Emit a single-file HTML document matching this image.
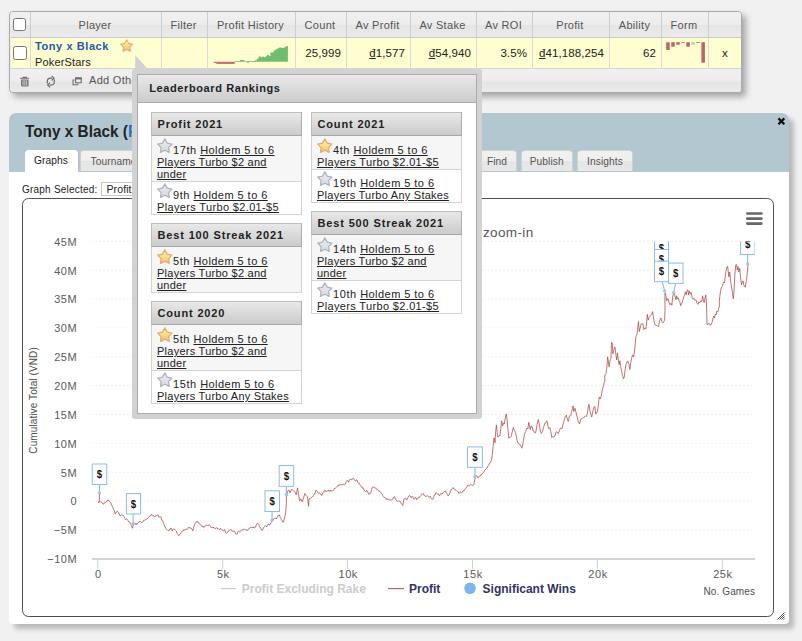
<!DOCTYPE html>
<html>
<head>
<meta charset="utf-8">
<title>Tony x Black</title>
<style>
*{box-sizing:border-box;}
html,body{margin:0;padding:0;}
body{width:802px;height:641px;overflow:hidden;background:#f1f1f1;font-family:"Liberation Sans",sans-serif;font-size:11px;color:#222;position:relative;}
.abs{position:absolute;}
/* ---------- top grid ---------- */
#grid{position:absolute;left:9px;top:11px;width:733px;height:82px;border:1px solid #aaa;border-radius:4px;box-shadow:4px 4px 6px rgba(0,0,0,.31);background:#eee;overflow:hidden;}
#gin{position:absolute;left:1px;top:1px;width:730px;height:80px;}
#ghead{position:absolute;left:0;top:-1px;width:730px;height:26px;background:linear-gradient(#f0f0f0 0,#ededed 50%,#e5e5e5 54%,#ebebeb 100%);border-bottom:1px solid #c9c9c9;}
#grow{position:absolute;left:0;top:25px;width:730px;height:31px;background:#fefed0;border-bottom:1px solid #d3d3d3;}
#gfoot{position:absolute;left:0;top:56px;width:730px;height:24px;background:linear-gradient(#f0f0f0 0,#ededed 50%,#e5e5e5 54%,#ebebeb 100%);}
.vl{position:absolute;top:-1px;width:1px;height:57px;background:linear-gradient(#cdcdcd 0,#cdcdcd 26px,#dadada 26px,#dadada 100%);}
.hc{position:absolute;top:0;height:24px;line-height:24px;text-align:center;color:#555;font-size:11px;letter-spacing:.3px;white-space:nowrap;}
.dc{position:absolute;top:25px;height:30px;line-height:30px;text-align:right;color:#222;font-size:11.5px;letter-spacing:.1px;white-space:nowrap;}
.dong{text-decoration:underline;text-underline-offset:1px;}
.cb{position:absolute;width:13px;height:13px;border:1px solid #767676;border-radius:2.5px;background:#fff;}
#pname{font-weight:bold;color:#1d5aa8;font-size:11px;letter-spacing:.58px;line-height:13px;white-space:nowrap;}
#psite{font-size:11px;letter-spacing:.15px;line-height:13px;color:#222;white-space:nowrap;}
/* ---------- panel ---------- */
#panel{position:absolute;left:9px;top:113px;width:780px;height:511px;background:#fff;border-radius:7px 7px 4px 4px;box-shadow:5px 5px 5px rgba(0,0,0,.23);}
#phead{position:absolute;left:0;top:0;width:780px;height:58.6px;background:#b2c7cf;border-radius:7px 7px 0 0;}
#ptitle{position:absolute;left:16px;top:8.7px;line-height:19px;transform:scaleX(.93);transform-origin:0 0;font-size:16.5px;font-weight:bold;color:#222;white-space:nowrap;}
.tab{position:absolute;top:37.3px;height:20.5px;border:1px solid #d0d0d0;border-bottom:none;border-radius:4px 4px 0 0;background:linear-gradient(#f1f1f1 0,#efefef 48%,#e5e5e5 52%,#e7e7e7 100%);color:#555;font-size:10.2px;letter-spacing:.1px;line-height:21.4px;text-align:center;white-space:nowrap;}
.tab.sel{background:#fff;top:36.7px;height:23px;color:#222;border-color:#fff;line-height:20.6px;}
#chart{position:absolute;left:13px;top:85px;width:752px;height:419px;border:1px solid #4f4f4f;border-radius:6.5px;background:#fff;overflow:hidden;}
/* ---------- popup ---------- */
#pop{position:absolute;left:132.3px;top:68.6px;width:349.5px;height:350.2px;background:#d2d2d2;border-radius:3px;}
#popin{position:absolute;left:5px;top:5px;width:339.5px;height:340.2px;background:#fff;}
#popin:after{content:"";position:absolute;left:0;top:0;right:0;bottom:0;border:1px solid #ababab;pointer-events:none;}
#poptitle{position:absolute;left:0;top:0;width:339.5px;height:29px;border:1px solid #ababab;background:linear-gradient(#e9e9e9,#cccccc);font-weight:bold;font-size:11px;letter-spacing:.6px;color:#222;line-height:27px;padding-left:11px;}
.lb{position:absolute;width:151px;border:1px solid #d3d3d3;background:#fff;}
.lbh{height:24px;border:1px solid #bdbdbd;border-bottom-color:#a8a8a8;border-right-color:#adadad;margin:-1px -1px 0 -1px;background:linear-gradient(#e8e8e8,#cbcbcb);font-weight:bold;font-size:11px;letter-spacing:.85px;color:#222;line-height:22px;padding-left:5px;white-space:nowrap;}
.lbr{border-top:1px solid #d3d3d3;padding:1px 0 0 4.5px;font-size:11px;letter-spacing:.3px;line-height:12px;color:#222;white-space:nowrap;overflow:hidden;}
.lbr.first{border-top:none;padding-top:2px;}
.lbr.r3{height:45.5px;}
.lbr.r2{height:33px;}
.lbr.first.r3{height:45px;}
.lbr.first.r2{height:32.5px;}
.lbr i{font-style:normal;letter-spacing:.6px;}
.lbr u.h{letter-spacing:.45px;}
.lbr u.a{letter-spacing:.26px;}
.lbr u.b{letter-spacing:.35px;}
.lbr u.c{letter-spacing:.25px;}
.lbr.alt{background:#f6f6f6;}
.lbr u{text-decoration:underline;}
.star{display:inline-block;width:16px;height:16px;vertical-align:baseline;}
</style>
</head>
<body>
<svg width="0" height="0" style="position:absolute">
<defs>
<linearGradient id="gg" x1="0" y1="0" x2="0" y2="1"><stop offset="0" stop-color="#fdf092"/><stop offset=".5" stop-color="#fbe084"/><stop offset="1" stop-color="#f8b56c"/></linearGradient>
<linearGradient id="sg" x1="0" y1="0" x2="0" y2="1"><stop offset="0" stop-color="#eceef2"/><stop offset="1" stop-color="#d4d8e0"/></linearGradient>
<symbol id="gstar" viewBox="0 0 16 16"><polygon points="7.85,0.90 10.17,5.15 14.94,6.05 11.61,9.57 12.23,14.38 7.85,12.30 3.47,14.38 4.09,9.57 0.76,6.05 5.53,5.15" fill="url(#gg)" stroke="#dcab78" stroke-width="1.2" stroke-linejoin="round"/></symbol>
<symbol id="sstar" viewBox="0 0 16 16"><polygon points="7.85,0.90 10.17,5.15 14.94,6.05 11.61,9.57 12.23,14.38 7.85,12.30 3.47,14.38 4.09,9.57 0.76,6.05 5.53,5.15" fill="url(#sg)" stroke="#aeb3bc" stroke-width="1.25" stroke-linejoin="round"/></symbol>
</defs></svg>

<!-- ================= GRID ================= -->
<div id="grid"><div id="gin">
  <div id="ghead"></div>
  <div id="grow"></div>
  <div id="gfoot"></div>
  <div class="vl" style="left:19px"></div>
  <div class="vl" style="left:150px"></div>
  <div class="vl" style="left:196px"></div>
  <div class="vl" style="left:284px"></div>
  <div class="vl" style="left:335px"></div>
  <div class="vl" style="left:399px"></div>
  <div class="vl" style="left:465px"></div>
  <div class="vl" style="left:521px"></div>
  <div class="vl" style="left:598px"></div>
  <div class="vl" style="left:650px"></div>
  <div class="vl" style="left:697px"></div>
  <div class="hc" style="left:19px;width:130px">Player</div>
  <div class="hc" style="left:150px;width:45px">Filter</div>
  <div class="hc" style="left:196px;width:87px">Profit History</div>
  <div class="hc" style="left:284px;width:50px">Count</div>
  <div class="hc" style="left:335px;width:63px">Av Profit</div>
  <div class="hc" style="left:399px;width:65px">Av Stake</div>
  <div class="hc" style="left:465px;width:55px">Av ROI</div>
  <div class="hc" style="left:521px;width:76px">Profit</div>
  <div class="hc" style="left:598px;width:51px">Ability</div>
  <div class="hc" style="left:650px;width:46px">Form</div>
  <div class="dc" style="left:285px;width:45px">25,999</div>
  <div class="dc" style="left:336px;width:58px"><span class="dong">đ</span>1,577</div>
  <div class="dc" style="left:400px;width:60px"><span class="dong">đ</span>54,940</div>
  <div class="dc" style="left:466px;width:50px">3.5%</div>
  <div class="dc" style="left:522px;width:71px"><span class="dong">đ</span>41,188,254</div>
  <div class="dc" style="left:599px;width:46px">62</div>
  <div class="dc" style="left:698px;width:32px;text-align:center">x</div>
  <div class="cb" style="left:2px;top:5px"></div>
  <div class="cb" style="left:2.2px;top:33.2px;width:13.6px;height:13.6px"></div>
  <div class="abs" id="pname" style="left:24px;top:27px;">Tony x Black</div>
  <div class="abs" id="psite" style="left:24px;top:43px;">PokerStars</div>
  <svg class="abs" style="left:108.7px;top:25.7px" width="13.6" height="13.6"><use href="#gstar"/></svg>
  <svg class="abs" style="left:0;top:0" width="730" height="56"><rect x="202.9" y="48.8" width="20.7" height="1.1" fill="#b95d63"/><rect x="205.3" y="49.9" width="18.4" height="0.9" fill="#b95d63"/><rect x="236.1" y="48.8" width="1.8" height="0.9" fill="#c9746f"/><polygon points="223.4,48.8 223.4,47.9 229.0,47.9 229.0,47.1 233.1,47.1 233.1,47.9 243.8,47.9 243.8,47.3 245.9,47.3 245.9,45.7 247.6,45.7 247.6,43.4 249.9,43.4 249.9,44.3 251.3,44.3 251.3,43.4 252.8,43.4 252.8,44.3 255.0,44.3 255.0,42.9 256.2,42.9 256.2,42.0 258.0,42.0 258.0,42.9 259.4,42.9 259.4,39.4 262.7,39.4 262.7,37.5 264.6,37.5 264.6,36.3 266.5,36.3 266.5,35.3 268.2,35.3 268.2,34.4 270.1,34.4 270.1,35.1 272.2,35.1 272.2,34.4 274.1,34.4 274.1,33.4 275.8,33.4 275.8,33.0 276.9,33.0 276.9,48.8" fill="#70bd6f"/></svg>
  <svg class="abs" style="left:0;top:0" width="730" height="56"><rect x="655.20" y="29.2" width="3.5" height="7.8" fill="#c0626b"/><rect x="660.23" y="29.2" width="3.5" height="4.5" fill="#c0626b"/><rect x="665.26" y="29.2" width="3.5" height="2.5" fill="#c0626b"/><rect x="670.29" y="29.2" width="3.5" height="0.8" fill="#c0626b"/><rect x="675.32" y="29.2" width="3.5" height="4.5" fill="#c0626b"/><rect x="680.35" y="29.2" width="3.5" height="2.5" fill="#90e59a"/><rect x="685.38" y="29.2" width="3.5" height="0.8" fill="#c0626b"/><rect x="690.41" y="29.2" width="3.5" height="20.5" fill="#c0626b"/></svg>
  <svg class="abs" style="left:0;top:56px" width="100" height="24" viewBox="0 56 100 24">
    <!-- trash -->
    <path d="M9 65.3H18M12.2 64.9V64.2H15.4V64.9" fill="none" stroke="#6f6f6f" stroke-width="1.1"/>
    <path d="M10 66.5H17.6V72.2Q17.6 73.6 16.2 73.6H11.4Q10 73.6 10 72.2Z" fill="#777"/>
    <path d="M12 67.2V72.6M13.8 67.2V72.6M15.6 67.2V72.6" stroke="#e2e2e2" stroke-width=".75"/>
    <!-- refresh -->
    <path d="M36.3 70.6V68.4Q36.3 65.2 39.5 65.2H41.2M43.3 66.6V68.8Q43.3 72 40.1 72H38.4" fill="none" stroke="#6a6a6a" stroke-width="1.25"/>
    <path d="M40.6 62.9L43 65.2L40.6 67.5M39 69.7L36.6 72L39 74.3" fill="none" stroke="#6a6a6a" stroke-width="1.15"/>
    <!-- copy -->
    <path d="M64.6 65.1H70.2V69.8H64.6Z" fill="none" stroke="#6f6f6f" stroke-width="1.1"/>
    <rect x="64.1" y="64.5" width="6.7" height="1.9" fill="#6a6a6a"/>
    <path d="M63.6 67H62V71.8H66.8V70.4" fill="none" stroke="#6f6f6f" stroke-width="1.1"/>
  </svg>
  <div class="abs" style="left:78px;top:61px;font-size:11px;letter-spacing:.3px;color:#555;line-height:13px;white-space:nowrap">Add Other Player</div>
</div></div>

<!-- ================= PANEL ================= -->
<div id="panel">
  <div id="phead"></div>
  <div class="tab sel" style="left:15.5px;width:53px">Graphs</div>
  <div class="tab" style="left:70.5px;width:80.5px;text-align:left;padding-left:10px">Tournaments</div>
  <div class="tab" style="left:468px;width:40px">Find</div>
  <div class="tab" style="left:511.5px;width:52.5px">Publish</div>
  <div class="tab" style="left:568px;width:56px">Insights</div>
  <svg class="abs" style="left:768.3px;top:4.3px" width="9" height="9" viewBox="0 0 9 9"><path d="M1.4 1.4L7.3 7.3M7.3 1.4L1.4 7.3" stroke="#111" stroke-width="2.3" stroke-linecap="butt"/></svg>
  <div class="abs" style="left:13px;top:70px;font-size:10px;letter-spacing:.22px;line-height:13px;color:#222;white-space:nowrap">Graph Selected:</div>
  <div class="abs" style="left:92px;top:68.6px;width:120px;height:14.9px;border:1px solid #c8c8c8;background:#fff;font-size:11px;letter-spacing:.3px;line-height:12.4px;padding-left:4.5px;color:#222;white-space:nowrap;font-size:10.5px;letter-spacing:.1px">Profit</div>
  <svg class="abs" style="left:768px;top:498.5px" width="8" height="8" viewBox="0 0 8 8"><path d="M7.5 0.5L0.5 7.5M7.5 2.5L2.5 7.5M7.5 4.5L4.5 7.5M7.5 6.5L6.5 7.5" stroke="#444" stroke-width=".9"/></svg>
  <div id="ptitle">Tony x Black (<span style="color:#2b6fc4">PokerStars</span>)</div>
  <div id="chart"></div>
<!--CHARTSVG-->
<svg class="abs" style="left:-9px;top:-113px" width="802" height="641" viewBox="0 0 802 641" font-family="Liberation Sans, sans-serif">
<path d="M91.5 241.3H755" stroke="#e3e3e3" stroke-width="1" stroke-dasharray="1.1 2.9" fill="none"/>
<path d="M91.5 270.2H755" stroke="#e3e3e3" stroke-width="1" stroke-dasharray="1.1 2.9" fill="none"/>
<path d="M91.5 299.0H755" stroke="#e3e3e3" stroke-width="1" stroke-dasharray="1.1 2.9" fill="none"/>
<path d="M91.5 327.9H755" stroke="#e3e3e3" stroke-width="1" stroke-dasharray="1.1 2.9" fill="none"/>
<path d="M91.5 356.8H755" stroke="#e3e3e3" stroke-width="1" stroke-dasharray="1.1 2.9" fill="none"/>
<path d="M91.5 385.6H755" stroke="#e3e3e3" stroke-width="1" stroke-dasharray="1.1 2.9" fill="none"/>
<path d="M91.5 414.5H755" stroke="#e3e3e3" stroke-width="1" stroke-dasharray="1.1 2.9" fill="none"/>
<path d="M91.5 443.4H755" stroke="#e3e3e3" stroke-width="1" stroke-dasharray="1.1 2.9" fill="none"/>
<path d="M91.5 472.3H755" stroke="#e3e3e3" stroke-width="1" stroke-dasharray="1.1 2.9" fill="none"/>
<path d="M91.5 501.1H755" stroke="#e3e3e3" stroke-width="1" stroke-dasharray="1.1 2.9" fill="none"/>
<path d="M91.5 530.0H755" stroke="#e3e3e3" stroke-width="1" stroke-dasharray="1.1 2.9" fill="none"/>
<path d="M92 559.0H755" stroke="#d3d3d3" stroke-width="1.9" fill="none"/>
<path d="M97.8 558.9V568.9" stroke="#c3d0ea" stroke-width="1" fill="none"/>
<path d="M222.7 558.9V568.9" stroke="#c3d0ea" stroke-width="1" fill="none"/>
<path d="M347.6 558.9V568.9" stroke="#c3d0ea" stroke-width="1" fill="none"/>
<path d="M472.5 558.9V568.9" stroke="#c3d0ea" stroke-width="1" fill="none"/>
<path d="M597.4 558.9V568.9" stroke="#c3d0ea" stroke-width="1" fill="none"/>
<path d="M722.3 558.9V568.9" stroke="#c3d0ea" stroke-width="1" fill="none"/>
<text x="77.2" y="245.6" text-anchor="end" font-size="11" fill="#5a5a5a" letter-spacing=".55">45M</text>
<text x="77.2" y="274.5" text-anchor="end" font-size="11" fill="#5a5a5a" letter-spacing=".55">40M</text>
<text x="77.2" y="303.3" text-anchor="end" font-size="11" fill="#5a5a5a" letter-spacing=".55">35M</text>
<text x="77.2" y="332.2" text-anchor="end" font-size="11" fill="#5a5a5a" letter-spacing=".55">30M</text>
<text x="77.2" y="361.1" text-anchor="end" font-size="11" fill="#5a5a5a" letter-spacing=".55">25M</text>
<text x="77.2" y="389.9" text-anchor="end" font-size="11" fill="#5a5a5a" letter-spacing=".55">20M</text>
<text x="77.2" y="418.8" text-anchor="end" font-size="11" fill="#5a5a5a" letter-spacing=".55">15M</text>
<text x="77.2" y="447.7" text-anchor="end" font-size="11" fill="#5a5a5a" letter-spacing=".55">10M</text>
<text x="77.2" y="476.6" text-anchor="end" font-size="11" fill="#5a5a5a" letter-spacing=".55">5M</text>
<text x="77.2" y="505.4" text-anchor="end" font-size="11" fill="#5a5a5a" letter-spacing=".55">0</text>
<text x="77.2" y="534.3" text-anchor="end" font-size="11" fill="#5a5a5a" letter-spacing=".55">−5M</text>
<text x="77.2" y="563.2" text-anchor="end" font-size="11" fill="#5a5a5a" letter-spacing=".55">−10M</text>
<text x="98.4" y="577.6" text-anchor="middle" font-size="11" fill="#5a5a5a" letter-spacing=".6">0</text>
<text x="223.3" y="577.6" text-anchor="middle" font-size="11" fill="#5a5a5a" letter-spacing=".6">5k</text>
<text x="348.2" y="577.6" text-anchor="middle" font-size="11" fill="#5a5a5a" letter-spacing=".6">10k</text>
<text x="473.1" y="577.6" text-anchor="middle" font-size="11" fill="#5a5a5a" letter-spacing=".6">15k</text>
<text x="598.0" y="577.6" text-anchor="middle" font-size="11" fill="#5a5a5a" letter-spacing=".6">20k</text>
<text x="722.9" y="577.6" text-anchor="middle" font-size="11" fill="#5a5a5a" letter-spacing=".6">25k</text>
<text transform="translate(37.2 400.4) rotate(-90)" text-anchor="middle" font-size="10" fill="#4d4d4d" letter-spacing=".1">Cumulative Total (VND)</text>
<text x="755" y="594.6" text-anchor="end" font-size="10" fill="#4d4d4d" letter-spacing=".1">No. Games</text>
<text x="533.5" y="236.9" text-anchor="end" font-size="13.5" fill="#555" letter-spacing=".35">Click and drag in the plot area to zoom-in</text>
<path d="M747.3 213.5H761.4" stroke="#666" stroke-width="2.6" stroke-linecap="round"/>
<path d="M747.3 218.6H761.4" stroke="#666" stroke-width="2.6" stroke-linecap="round"/>
<path d="M747.3 223.6H761.4" stroke="#666" stroke-width="2.6" stroke-linecap="round"/>
<clipPath id="plot"><rect x="91" y="241.3" width="664" height="317.6"/></clipPath>
<g clip-path="url(#plot)">
<path d="M99.4 493.5 L99.4 499.9 L98.6 502.9 L99.1 502.2 L99.5 501.5 L100.0 501.5 L100.5 502.1 L101.0 501.6 L101.5 502.6 L102.0 502.9 L102.4 503.2 L102.9 503.2 L103.4 504.3 L103.9 503.9 L104.4 502.7 L105.0 502.9 L105.5 502.5 L106.0 501.6 L106.6 501.9 L107.0 500.6 L107.5 500.5 L108.0 499.9 L108.4 500.9 L108.9 500.4 L109.4 501.5 L109.9 501.6 L110.4 502.6 L111.0 502.9 L111.5 504.9 L112.0 505.7 L112.6 506.9 L113.0 507.8 L113.5 509.6 L114.0 509.9 L114.4 510.6 L114.9 513.1 L115.3 513.9 L115.9 512.8 L116.4 511.8 L116.9 511.5 L117.5 511.4 L118.0 512.1 L118.5 512.9 L119.0 514.2 L119.5 514.1 L119.9 515.5 L120.4 515.5 L120.9 515.4 L121.4 514.8 L121.9 514.9 L122.4 515.3 L122.9 514.9 L123.4 515.3 L123.9 516.3 L124.4 516.9 L124.9 518.7 L125.3 519.5 L125.9 519.2 L126.4 518.8 L126.9 518.9 L127.5 519.9 L128.0 520.5 L128.5 521.5 L129.0 521.4 L129.4 522.4 L129.9 522.3 L130.4 523.6 L130.8 524.0 L131.3 525.5 L131.9 527.0 L132.5 528.3 L133.0 526.1 L133.5 523.9 L134.0 524.3 L134.4 523.9 L134.9 523.5 L135.4 523.3 L135.9 524.6 L136.4 523.5 L136.9 524.3 L137.4 523.5 L138.0 523.3 L138.5 522.3 L139.0 521.5 L139.5 521.9 L140.0 521.0 L140.5 521.5 L141.0 521.9 L141.5 522.3 L142.0 522.2 L142.5 522.3 L142.9 522.2 L143.4 520.7 L143.9 520.3 L144.4 520.4 L144.9 520.0 L145.4 519.8 L145.9 519.5 L146.4 519.0 L146.9 519.2 L147.4 518.9 L147.9 517.9 L148.4 517.4 L148.9 517.3 L149.4 516.0 L149.9 516.3 L150.3 515.9 L150.8 515.2 L151.3 514.3 L151.8 515.3 L152.3 515.4 L152.8 514.9 L153.3 515.5 L153.8 515.8 L154.3 516.7 L154.9 516.9 L155.4 515.8 L155.9 516.2 L156.4 515.9 L156.9 515.1 L157.4 514.8 L157.8 515.1 L158.3 515.2 L158.8 517.1 L159.2 517.5 L159.8 516.7 L160.3 516.7 L160.8 516.9 L161.4 518.0 L161.9 520.1 L162.4 520.9 L162.9 521.2 L163.4 522.8 L163.8 523.9 L164.3 524.9 L164.8 526.4 L165.2 526.9 L165.8 528.3 L166.3 529.4 L166.8 529.9 L167.4 529.9 L167.9 530.4 L168.4 530.8 L168.9 530.0 L169.3 530.2 L169.8 529.1 L170.3 529.5 L170.7 528.0 L171.2 528.3 L171.8 529.1 L172.4 530.8 L172.9 529.8 L173.3 529.1 L173.8 528.9 L174.3 529.2 L174.7 529.7 L175.2 529.9 L175.7 530.5 L176.3 531.1 L176.8 532.8 L177.3 533.6 L177.9 534.4 L178.4 535.4 L178.9 535.1 L179.3 535.3 L179.8 534.2 L180.3 533.9 L180.7 532.9 L181.2 532.2 L181.7 532.0 L182.2 531.6 L182.8 530.8 L183.3 529.8 L183.8 530.8 L184.4 529.9 L184.8 529.9 L185.3 529.7 L185.8 528.9 L186.2 529.5 L186.7 529.1 L187.2 529.5 L187.7 528.6 L188.2 527.5 L188.8 527.5 L189.3 527.9 L189.8 527.3 L190.4 528.3 L190.8 527.9 L191.3 528.3 L191.8 529.1 L192.3 529.4 L192.8 530.8 L193.2 528.9 L193.7 526.9 L194.2 525.9 L194.7 524.1 L195.2 523.3 L195.7 522.9 L196.2 521.8 L196.7 521.7 L197.1 521.5 L197.7 521.2 L198.2 523.0 L198.7 522.9 L199.3 523.7 L199.8 523.7 L200.3 524.9 L200.8 525.0 L201.3 525.6 L201.7 526.3 L202.2 526.2 L202.7 526.0 L203.2 527.2 L203.7 526.9 L204.2 527.3 L204.7 526.3 L205.2 526.1 L205.7 525.9 L206.2 525.1 L206.7 525.1 L207.2 525.3 L207.7 525.5 L208.2 524.9 L208.6 525.6 L209.1 524.9 L209.6 525.0 L210.2 525.5 L210.7 526.9 L211.2 527.8 L211.7 527.4 L212.2 527.1 L212.7 527.9 L213.2 528.0 L213.7 527.3 L214.2 528.2 L214.7 528.3 L215.2 528.7 L215.8 528.3 L216.3 527.5 L216.8 528.2 L217.2 528.0 L217.7 528.9 L218.2 528.9 L218.6 528.8 L219.1 529.5 L219.7 529.3 L220.3 528.3 L220.8 528.8 L221.2 529.7 L221.7 529.9 L222.1 529.9 L222.6 530.1 L223.1 530.8 L223.6 530.8 L224.1 530.6 L224.7 529.5 L225.2 531.3 L225.7 532.6 L226.3 533.4 L226.7 533.4 L227.2 532.7 L227.7 531.8 L228.1 531.1 L228.6 531.2 L229.1 530.8 L229.6 530.3 L230.1 529.5 L230.7 529.9 L231.2 529.7 L231.7 530.6 L232.3 531.4 L232.7 530.9 L233.2 531.3 L233.7 530.8 L234.1 531.9 L234.6 531.4 L235.0 531.8 L235.6 533.3 L236.1 534.2 L236.6 534.2 L237.2 534.0 L237.7 532.2 L238.2 531.4 L238.7 531.3 L239.2 531.6 L239.6 532.2 L240.1 531.3 L240.6 530.9 L241.0 530.8 L241.6 530.6 L242.1 530.5 L242.6 529.5 L243.2 529.8 L243.7 529.0 L244.2 528.9 L244.7 529.4 L245.2 530.0 L245.6 529.9 L246.1 529.4 L246.6 530.4 L247.0 530.2 L247.6 530.4 L248.1 529.7 L248.6 528.9 L249.1 528.8 L249.7 527.9 L250.2 527.5 L250.7 527.1 L251.1 528.1 L251.6 527.8 L252.1 527.2 L252.5 527.6 L253.0 526.8 L253.5 528.0 L253.9 527.6 L254.4 528.2 L254.9 527.2 L255.5 527.0 L256.0 525.4 L256.5 525.1 L257.0 523.6 L257.6 523.4 L258.0 523.3 L258.5 523.8 L259.0 524.8 L259.4 526.4 L259.9 527.3 L260.4 527.8 L260.9 528.1 L261.4 529.9 L262.0 530.2 L262.5 530.1 L263.0 528.9 L263.6 527.8 L264.0 526.9 L264.5 526.6 L265.0 525.8 L265.4 525.6 L265.9 525.8 L266.4 526.8 L266.9 526.7 L267.4 525.3 L268.0 524.2 L268.5 524.5 L269.0 525.3 L269.6 524.8 L270.0 524.1 L270.5 524.1 L270.9 522.8 L271.4 522.3 L271.9 520.4 L272.3 519.9 L272.9 519.3 L273.5 519.5 L274.0 518.6 L274.5 518.0 L274.9 517.9 L275.4 518.3 L275.9 518.2 L276.3 518.9 L276.9 517.7 L277.4 516.3 L277.9 515.9 L278.4 516.1 L278.9 515.0 L279.3 514.9 L279.9 516.3 L280.5 517.9 L281.0 518.6 L281.5 519.8 L281.9 519.9 L282.4 520.5 L282.9 522.1 L283.3 522.2 L283.8 520.6 L284.3 518.9 L284.9 516.4 L285.5 513.9 L286.3 503.9 L286.5 495.5 L287.0 493.8 L287.5 491.9 L288.0 490.5 L288.4 490.5 L288.9 489.9 L289.4 490.9 L289.9 492.9 L290.4 491.3 L290.8 491.6 L291.3 490.3 L291.8 489.4 L292.3 489.5 L292.9 490.2 L293.5 490.9 L294.0 491.6 L294.4 491.7 L294.9 491.9 L295.4 492.7 L295.8 493.9 L296.3 494.9 L296.9 491.5 L297.5 487.9 L298.0 491.3 L298.5 493.9 L299.0 496.8 L299.5 500.9 L299.9 500.3 L300.4 499.2 L300.9 498.9 L301.3 499.6 L301.8 501.3 L302.3 501.9 L302.9 499.9 L303.5 497.9 L303.9 496.5 L304.4 495.4 L304.9 493.5 L305.3 494.8 L305.8 494.8 L306.3 495.5 L306.9 496.4 L307.5 496.9 L308.0 501.6 L308.5 506.3 L309.1 498.9 L309.7 498.6 L310.2 498.5 L310.8 497.9 L311.3 497.4 L311.8 497.2 L312.3 496.7 L312.8 496.3 L313.3 496.3 L313.8 495.3 L314.2 494.3 L314.8 493.5 L315.3 492.3 L315.8 490.3 L316.4 490.4 L316.9 491.2 L317.4 491.5 L317.9 492.7 L318.4 493.0 L318.8 492.9 L319.3 492.7 L319.8 493.0 L320.2 493.9 L320.8 494.4 L321.3 494.3 L321.8 495.5 L322.4 494.1 L322.9 492.7 L323.4 492.3 L323.9 491.9 L324.3 491.4 L324.8 490.3 L325.3 491.3 L325.7 490.6 L326.2 491.5 L326.7 491.6 L327.3 491.4 L327.8 490.9 L328.3 490.2 L328.8 491.2 L329.3 491.2 L329.8 490.3 L330.3 490.1 L330.8 491.3 L331.3 490.6 L331.8 490.9 L332.3 490.6 L332.8 491.0 L333.3 490.4 L333.8 489.5 L334.3 488.6 L334.8 488.6 L335.3 488.4 L335.8 487.9 L336.3 487.2 L336.8 486.5 L337.3 486.2 L337.8 485.9 L338.3 486.0 L338.8 484.7 L339.3 485.3 L339.8 484.9 L340.3 484.9 L340.8 484.3 L341.3 484.8 L341.8 485.1 L342.3 485.1 L342.8 484.8 L343.3 483.9 L343.8 484.3 L344.3 484.7 L344.8 484.1 L345.3 484.0 L345.8 482.9 L346.3 481.5 L346.8 480.9 L347.4 480.3 L347.9 480.7 L348.4 482.3 L348.8 482.0 L349.3 480.4 L349.8 480.0 L350.2 479.2 L350.7 479.5 L351.2 480.1 L351.7 479.4 L352.2 479.6 L352.7 478.5 L353.2 478.1 L353.7 478.4 L354.3 479.8 L354.8 480.2 L355.3 480.9 L355.8 480.9 L356.3 479.7 L356.7 480.0 L357.2 480.3 L357.7 482.2 L358.1 482.9 L358.7 483.3 L359.2 483.2 L359.7 484.3 L360.3 485.7 L360.8 485.9 L361.3 486.3 L361.8 487.3 L362.3 486.8 L362.7 487.9 L363.2 489.1 L363.6 488.6 L364.1 489.9 L364.6 491.1 L365.2 491.2 L365.7 491.9 L366.3 490.9 L366.9 490.3 L367.5 491.7 L368.1 492.9 L368.6 494.0 L369.2 493.5 L369.7 494.3 L370.2 493.0 L370.6 492.8 L371.1 491.9 L371.6 489.5 L372.1 487.9 L372.6 487.1 L373.2 487.0 L373.7 487.3 L374.2 487.0 L374.8 487.5 L375.3 488.3 L375.8 488.2 L376.2 488.4 L376.7 488.9 L377.1 489.8 L377.6 489.5 L378.1 490.3 L378.6 490.7 L379.1 490.6 L379.7 491.5 L380.2 492.0 L380.7 492.1 L381.3 493.5 L381.7 493.8 L382.2 494.1 L382.7 495.5 L383.1 496.5 L383.6 496.9 L384.1 497.5 L384.6 497.3 L385.1 498.0 L385.7 498.3 L386.2 499.4 L386.7 498.5 L387.3 499.5 L387.7 499.8 L388.2 499.0 L388.7 498.9 L389.1 499.4 L389.6 500.3 L390.0 500.3 L390.6 500.0 L391.1 500.0 L391.6 499.9 L392.2 499.5 L392.7 499.3 L393.2 497.9 L393.8 497.0 L394.4 496.5 L395.0 498.2 L395.6 498.9 L396.2 500.1 L396.7 500.8 L397.2 501.5 L397.7 501.2 L398.2 500.9 L398.6 500.9 L399.1 500.6 L399.6 501.0 L400.0 501.9 L400.6 501.9 L401.1 503.6 L401.6 503.9 L402.2 504.3 L402.8 505.5 L403.6 500.9 L404.0 499.4 L404.5 498.5 L405.1 498.0 L405.6 498.2 L406.1 499.2 L406.5 499.8 L407.0 499.8 L407.4 499.1 L407.9 497.5 L408.4 496.8 L409.0 495.7 L409.6 495.4 L410.0 495.9 L410.5 496.9 L411.0 497.8 L411.4 496.8 L411.9 496.7 L412.4 496.2 L412.9 496.7 L413.4 498.6 L414.0 498.8 L414.5 499.0 L415.0 497.9 L415.6 497.4 L416.0 497.7 L416.5 499.4 L417.0 499.4 L417.4 498.7 L417.9 498.4 L418.4 498.2 L418.9 497.0 L419.4 497.1 L420.0 496.8 L420.5 496.1 L421.0 495.5 L421.5 494.8 L422.0 494.0 L422.5 494.2 L422.9 493.8 L423.4 493.7 L423.9 494.8 L424.3 495.8 L424.9 495.5 L425.4 496.3 L425.9 496.8 L426.5 495.8 L427.0 495.4 L427.5 495.8 L428.0 496.0 L428.5 496.5 L428.9 497.4 L429.4 497.1 L429.9 496.7 L430.3 496.2 L430.9 497.6 L431.4 498.6 L431.9 499.4 L432.5 499.2 L433.0 498.9 L433.5 497.8 L434.0 496.4 L434.4 495.2 L434.9 494.2 L435.4 494.5 L435.8 492.8 L436.3 492.8 L436.8 493.6 L437.4 494.0 L437.9 494.2 L438.4 493.9 L439.0 495.5 L439.5 495.4 L440.0 495.3 L440.4 494.3 L440.9 493.4 L441.4 494.0 L441.8 494.4 L442.3 494.2 L442.8 492.9 L443.4 492.7 L443.9 491.8 L444.4 491.5 L445.0 491.7 L445.5 490.8 L446.0 492.1 L446.4 493.0 L446.9 493.4 L447.3 494.3 L447.8 495.6 L448.3 495.8 L448.8 495.1 L449.3 494.1 L449.9 492.8 L450.4 491.4 L450.9 490.1 L451.5 489.8 L451.9 488.6 L452.4 488.3 L452.9 487.8 L453.3 487.6 L453.8 489.0 L454.3 488.8 L454.8 489.4 L455.3 490.0 L455.9 490.2 L456.4 490.8 L456.9 491.3 L457.5 491.4 L457.9 492.1 L458.4 492.0 L458.9 493.4 L459.3 493.3 L459.8 492.7 L460.2 491.8 L460.8 492.2 L461.3 492.5 L461.8 492.8 L462.4 492.4 L462.9 490.8 L463.4 490.8 L463.9 490.8 L464.4 489.8 L464.8 489.8 L465.3 488.5 L465.8 488.1 L466.2 487.8 L466.8 487.2 L467.3 485.4 L467.8 484.8 L468.4 485.5 L468.9 486.2 L469.4 485.8 L469.9 485.3 L470.4 484.6 L470.8 484.2 L471.3 484.6 L471.8 485.3 L472.2 485.4 L472.8 485.6 L473.3 485.2 L473.8 484.8 L474.3 482.6 L474.8 479.9 L475.4 476.9 L475.9 475.9 L476.3 475.7 L476.8 475.9 L477.3 476.2 L477.7 477.6 L478.2 477.9 L478.7 477.0 L479.3 476.9 L479.8 476.3 L480.3 475.1 L480.9 474.7 L481.4 474.9 L481.9 473.9 L482.3 473.8 L482.8 472.9 L483.3 472.7 L483.7 472.2 L484.2 471.5 L484.7 470.3 L485.3 469.8 L485.8 468.9 L486.3 468.5 L486.7 468.2 L487.2 467.9 L487.8 466.1 L488.4 465.5 L488.8 465.2 L489.3 463.3 L489.8 462.9 L490.2 462.9 L490.7 462.2 L491.2 460.9 L491.6 459.8 L492.4 453.8 L493.2 445.8 L494.0 437.9 L494.5 439.6 L495.0 442.8 L495.6 431.9 L496.4 424.9 L497.0 430.8 L497.6 436.9 L498.0 436.9 L498.5 436.6 L499.0 435.5 L499.5 435.6 L500.0 435.9 L500.4 431.5 L500.9 427.9 L501.5 420.9 L502.0 423.0 L502.5 425.9 L503.0 425.1 L503.5 422.9 L504.3 423.9 L505.1 418.9 L505.7 416.0 L506.3 413.9 L507.1 419.9 L507.9 428.9 L508.4 433.7 L508.9 438.3 L509.4 437.3 L509.9 437.4 L510.3 436.9 L510.9 436.8 L511.5 435.5 L512.0 432.6 L512.5 430.9 L513.3 427.5 L513.8 429.4 L514.3 430.3 L514.9 431.3 L515.5 432.3 L516.0 435.1 L516.5 436.9 L517.0 439.9 L517.5 442.2 L518.0 442.4 L518.4 443.9 L518.9 443.8 L519.4 444.4 L519.8 444.2 L520.3 445.4 L520.8 445.6 L521.4 447.3 L521.9 448.2 L522.4 446.0 L522.9 443.8 L523.4 440.6 L523.9 437.9 L524.4 434.8 L524.9 432.9 L525.4 431.9 L525.9 431.5 L526.5 429.4 L527.1 427.9 L527.9 428.9 L528.7 422.3 L529.5 426.3 L530.3 429.5 L531.1 425.9 L531.7 426.9 L532.3 426.9 L533.1 430.9 L533.7 430.8 L534.3 432.3 L534.9 432.9 L535.5 432.9 L536.0 430.9 L536.5 427.9 L537.0 424.8 L537.5 422.9 L538.3 419.5 L538.8 422.5 L539.3 424.3 L539.8 427.4 L540.2 429.9 L540.8 432.3 L541.4 433.5 L542.0 431.9 L542.6 430.9 L543.2 428.7 L543.8 426.9 L544.4 424.7 L545.0 422.9 L545.6 422.9 L546.2 421.5 L547.0 420.9 L547.8 425.5 L548.3 427.3 L548.8 428.9 L549.3 428.0 L549.8 427.5 L550.3 429.4 L550.8 431.5 L551.3 434.1 L551.8 437.5 L552.4 436.6 L552.9 436.5 L553.4 436.9 L553.9 437.0 L554.5 435.9 L555.0 435.9 L555.5 434.5 L556.0 431.9 L556.5 431.7 L557.0 432.3 L557.6 432.5 L558.2 433.5 L558.8 432.2 L559.4 430.9 L560.0 428.9 L560.6 427.9 L561.2 428.2 L561.8 428.9 L562.4 427.3 L563.0 424.3 L563.6 422.7 L564.2 419.9 L564.8 418.6 L565.4 416.3 L565.9 415.8 L566.4 414.9 L566.9 417.5 L567.4 418.9 L568.2 421.5 L568.8 419.4 L569.4 415.9 L569.8 415.9 L570.3 416.0 L570.8 415.5 L571.3 412.5 L571.8 410.9 L572.4 408.8 L573.0 405.9 L573.8 411.5 L574.4 409.9 L575.0 408.3 L575.6 411.0 L576.2 412.9 L576.7 415.1 L577.2 416.9 L577.7 419.1 L578.2 421.9 L578.8 422.2 L579.4 423.9 L580.0 422.5 L580.5 419.9 L581.1 418.8 L581.7 418.9 L582.3 418.4 L582.9 417.9 L583.5 417.5 L584.1 417.5 L584.7 416.4 L585.3 415.9 L585.9 416.5 L586.5 416.3 L587.1 414.3 L587.7 410.9 L588.3 407.3 L588.9 404.3 L589.7 408.9 L590.2 411.7 L590.7 413.9 L591.2 415.1 L591.7 416.9 L592.2 414.5 L592.7 411.9 L593.2 409.8 L593.7 407.9 L594.3 406.7 L594.9 406.5 L595.7 413.9 L596.3 412.9 L596.9 412.9 L597.7 409.9 L598.5 403.9 L599.1 397.0 L599.6 397.5 L600.1 399.0 L600.6 398.3 L601.1 396.4 L601.6 393.7 L602.1 391.0 L602.6 388.6 L603.1 387.0 L603.6 385.6 L604.1 383.0 L604.9 380.0 L604.6 375.8 L605.0 375.9 L605.5 374.4 L606.0 373.8 L606.5 369.3 L607.0 365.8 L607.6 356.9 L608.4 361.8 L609.2 366.8 L610.0 360.8 L610.4 359.4 L610.9 358.9 L611.5 342.3 L612.3 342.9 L612.9 353.9 L613.4 351.3 L613.9 349.9 L614.4 348.1 L614.9 346.9 L615.4 350.3 L615.9 354.9 L616.7 359.9 L617.5 352.9 L618.3 359.9 L619.1 364.8 L619.9 360.8 L620.7 366.8 L621.5 370.8 L622.0 372.7 L622.5 375.4 L623.0 376.7 L623.5 378.8 L624.3 376.8 L625.1 369.8 L625.9 364.8 L626.4 363.4 L626.9 361.8 L627.4 362.2 L627.9 361.4 L628.4 363.2 L628.9 364.2 L629.4 366.7 L629.9 369.4 L630.7 362.8 L631.5 358.9 L632.0 356.7 L632.5 354.9 L633.0 355.9 L633.5 356.9 L634.3 352.9 L635.1 344.9 L635.9 336.9 L636.4 335.7 L636.9 334.9 L637.4 330.7 L637.9 326.9 L638.5 321.5 L639.3 331.5 L639.8 329.1 L640.3 327.9 L640.8 325.6 L641.3 323.9 L641.8 324.4 L642.3 323.5 L642.8 324.2 L643.3 325.9 L643.9 329.5 L644.4 328.7 L644.9 327.9 L645.4 328.6 L645.9 328.9 L646.7 321.9 L647.3 314.4 L647.8 317.7 L648.3 320.0 L649.1 317.6 L649.9 316.4 L650.3 315.5 L650.8 315.6 L651.3 314.4 L651.8 314.0 L652.6 311.6 L653.4 317.0 L654.2 321.9 L655.0 324.9 L655.6 324.9 L656.2 325.5 L656.8 325.6 L657.4 325.9 L657.9 326.4 L658.4 326.9 L658.9 325.1 L659.4 321.9 L660.2 319.0 L661.0 318.0 L661.8 321.5 L662.3 322.5 L662.8 322.3 L663.3 322.5 L663.8 321.5 L664.6 320.0 L665.0 310.0 L664.9 296.8 L665.1 292.9 L665.9 295.8 L666.7 300.8 L667.5 298.8 L668.3 299.2 L669.1 302.8 L669.9 304.8 L670.4 303.6 L670.9 303.8 L671.4 303.8 L671.9 305.2 L672.7 296.8 L673.5 293.3 L674.3 292.9 L675.1 296.8 L675.9 299.8 L676.7 295.8 L677.5 298.8 L678.3 297.8 L679.1 300.8 L679.9 301.8 L680.6 305.8 L681.4 303.8 L682.2 302.8 L683.0 299.8 L683.8 296.8 L684.6 294.9 L685.4 291.9 L686.2 294.9 L687.0 290.5 L687.8 289.9 L688.6 294.9 L689.4 290.9 L690.2 293.9 L691.0 292.5 L691.8 295.8 L692.3 297.7 L692.8 298.8 L693.3 299.2 L693.8 298.4 L694.3 299.4 L694.8 300.4 L695.3 300.3 L695.8 299.8 L696.3 300.6 L696.8 302.8 L697.3 303.5 L697.8 304.4 L698.3 303.8 L698.8 301.8 L699.3 302.6 L699.8 302.4 L700.3 302.2 L700.8 300.8 L701.3 301.7 L701.8 301.2 L702.6 295.8 L703.4 300.8 L704.2 302.8 L705.0 298.4 L705.8 294.9 L706.4 302.8 L706.9 318.0 L707.1 324.9 L707.6 324.3 L708.1 324.3 L708.7 323.4 L709.3 323.5 L709.8 324.0 L710.3 325.5 L710.8 324.8 L711.3 323.9 L712.1 322.3 L712.9 319.0 L713.7 316.0 L714.5 318.0 L715.3 314.0 L716.1 315.0 L716.9 311.0 L717.7 312.0 L718.2 310.4 L718.7 308.4 L719.2 306.8 L719.7 304.0 L719.2 302.8 L719.8 296.8 L720.5 290.9 L721.3 287.9 L722.1 286.5 L722.9 283.9 L723.7 281.9 L724.5 282.9 L725.3 275.9 L726.1 270.9 L726.9 266.9 L727.7 266.5 L728.3 271.9 L728.9 276.9 L729.7 271.9 L730.3 277.9 L730.9 282.9 L731.7 287.9 L732.5 292.9 L733.3 298.8 L733.9 292.9 L734.5 280.9 L735.1 271.9 L735.7 264.9 L736.5 264.5 L737.3 269.9 L738.1 266.5 L738.9 271.9 L739.7 268.5 L740.3 274.9 L740.9 279.9 L741.5 284.9 L742.3 281.9 L743.1 280.9 L743.7 284.5 L744.5 286.5 L745.3 287.3 L745.9 282.9 L746.5 280.5 L747.1 274.9 L747.7 267.9 L748.1 263.9" fill="none" stroke="#aa4643" stroke-opacity=".8" stroke-width=".95" stroke-linejoin="round"/>
<path d="M99.5 484.5L99.5 493" stroke="#7cb5ec" stroke-width="1" fill="none"/>
<circle cx="99.5" cy="493" r="1.3" fill="#a9cdf0" stroke="#7cb5ec" stroke-width=".6"/>
<path d="M133.1 514L133.1 523.5" stroke="#7cb5ec" stroke-width="1" fill="none"/>
<circle cx="133.1" cy="523.5" r="1.3" fill="#a9cdf0" stroke="#7cb5ec" stroke-width=".6"/>
<path d="M272 511.5L272 520.3" stroke="#7cb5ec" stroke-width="1" fill="none"/>
<circle cx="272" cy="520.3" r="1.3" fill="#a9cdf0" stroke="#7cb5ec" stroke-width=".6"/>
<path d="M286.3 486.3L286.3 494.8" stroke="#7cb5ec" stroke-width="1" fill="none"/>
<circle cx="286.3" cy="494.8" r="1.3" fill="#a9cdf0" stroke="#7cb5ec" stroke-width=".6"/>
<path d="M475 467.3L475 476.8" stroke="#7cb5ec" stroke-width="1" fill="none"/>
<circle cx="475" cy="476.8" r="1.3" fill="#a9cdf0" stroke="#7cb5ec" stroke-width=".6"/>
<path d="M662.2 281.7L664.7 291.1" stroke="#7cb5ec" stroke-width="1" fill="none"/>
<circle cx="664.7" cy="291.1" r="1.3" fill="#a9cdf0" stroke="#7cb5ec" stroke-width=".6"/>
<path d="M675.6 283.4L673.7 292.6" stroke="#7cb5ec" stroke-width="1" fill="none"/>
<circle cx="673.7" cy="292.6" r="1.3" fill="#a9cdf0" stroke="#7cb5ec" stroke-width=".6"/>
<path d="M747.7 254.5L747.7 263.9" stroke="#7cb5ec" stroke-width="1" fill="none"/>
<circle cx="747.7" cy="263.9" r="1.3" fill="#a9cdf0" stroke="#7cb5ec" stroke-width=".6"/>
<rect x="92.2" y="464" width="14.5" height="20.5" fill="#fff" stroke="#8bbcee" stroke-width="1"/>
<text transform="translate(99.5 477.9) scale(.84 1)" text-anchor="middle" font-size="11.5" font-weight="bold" fill="#111">$</text>
<rect x="126.4" y="493.6" width="14.2" height="20.4" fill="#fff" stroke="#8bbcee" stroke-width="1"/>
<text transform="translate(133.5 507.5) scale(.84 1)" text-anchor="middle" font-size="11.5" font-weight="bold" fill="#111">$</text>
<rect x="265" y="490.8" width="14.5" height="20.7" fill="#fff" stroke="#8bbcee" stroke-width="1"/>
<text transform="translate(272.2 504.8) scale(.84 1)" text-anchor="middle" font-size="11.5" font-weight="bold" fill="#111">$</text>
<rect x="279.2" y="465.6" width="14.5" height="20.7" fill="#fff" stroke="#8bbcee" stroke-width="1"/>
<text transform="translate(286.4 479.7) scale(.84 1)" text-anchor="middle" font-size="11.5" font-weight="bold" fill="#111">$</text>
<rect x="467.5" y="446.9" width="14.9" height="20.4" fill="#fff" stroke="#8bbcee" stroke-width="1"/>
<text transform="translate(474.9 460.8) scale(.84 1)" text-anchor="middle" font-size="11.5" font-weight="bold" fill="#111">$</text>
<rect x="654.5" y="237.8" width="14.0" height="20.4" fill="#fff" stroke="#8bbcee" stroke-width="1"/>
<text transform="translate(661.5 251.7) scale(.84 1)" text-anchor="middle" font-size="11.5" font-weight="bold" fill="#111">$</text>
<rect x="654.5" y="249.5" width="14.0" height="20.4" fill="#fff" stroke="#8bbcee" stroke-width="1"/>
<text transform="translate(661.5 263.4) scale(.84 1)" text-anchor="middle" font-size="11.5" font-weight="bold" fill="#111">$</text>
<rect x="654.5" y="261.2" width="14.0" height="20.5" fill="#fff" stroke="#8bbcee" stroke-width="1"/>
<text transform="translate(661.5 275.1) scale(.84 1)" text-anchor="middle" font-size="11.5" font-weight="bold" fill="#111">$</text>
<rect x="668.5" y="263.1" width="14.5" height="20.3" fill="#fff" stroke="#8bbcee" stroke-width="1"/>
<text transform="translate(675.8 276.9) scale(.84 1)" text-anchor="middle" font-size="11.5" font-weight="bold" fill="#111">$</text>
<rect x="740.6" y="234.1" width="14.4" height="20.4" fill="#fff" stroke="#8bbcee" stroke-width="1"/>
<text transform="translate(747.8 248.0) scale(.84 1)" text-anchor="middle" font-size="11.5" font-weight="bold" fill="#111">$</text>
</g>
<path d="M221 588.6H236" stroke="#cccccc" stroke-width="1.2"/>
<text x="241.8" y="593.4" font-size="12" font-weight="bold" fill="#cccccc" letter-spacing="0">Profit Excluding Rake</text>
<path d="M388 588.6H404" stroke="#aa4643" stroke-opacity=".82" stroke-width="1.2"/>
<text x="409" y="593.4" font-size="12" font-weight="bold" fill="#333366" letter-spacing="0">Profit</text>
<circle cx="470" cy="588.3" r="5.8" fill="#7cb5ec"/>
<text x="482.6" y="593.4" font-size="12" font-weight="bold" fill="#333366" letter-spacing="0">Significant Wins</text>
</svg>
<!--/CHARTSVG-->
</div>

<!-- ================= POPUP ================= -->
<svg class="abs" style="left:130px;top:54px" width="22" height="16"><polygon points="5.2,1.3 5.2,15.5 18.3,15.5" fill="#d2d2d2"/></svg>
<div id="pop">
  <div id="popin">
    <div id="poptitle">Leaderboard Rankings</div>
    <div class="lb" style="left:14.2px;top:38.9px">
      <div class="lbh">Profit 2021</div>
      <div class="lbr alt first r3"><svg class="star"><use href="#sstar"/></svg><i>17th</i> <u class="h">Holdem 5 to 6</u><br><u class="a">Players Turbo $2 and</u><br><u class="a">under</u></div>
      <div class="lbr r2"><svg class="star"><use href="#sstar"/></svg><i>9th</i> <u class="h">Holdem 5 to 6</u><br><u class="b">Players Turbo $2.01-$5</u></div>
    </div>
    <div class="lb" style="left:14.2px;top:149.9px">
      <div class="lbh">Best 100 Streak 2021</div>
      <div class="lbr alt first r3"><svg class="star"><use href="#gstar"/></svg><i>5th</i> <u class="h">Holdem 5 to 6</u><br><u class="a">Players Turbo $2 and</u><br><u class="a">under</u></div>
    </div>
    <div class="lb" style="left:14.2px;top:227.9px">
      <div class="lbh">Count 2020</div>
      <div class="lbr alt first r3"><svg class="star"><use href="#gstar"/></svg><i>5th</i> <u class="h">Holdem 5 to 6</u><br><u class="a">Players Turbo $2 and</u><br><u class="a">under</u></div>
      <div class="lbr r2"><svg class="star"><use href="#sstar"/></svg><i>15th</i> <u class="h">Holdem 5 to 6</u><br><u class="c">Players Turbo Any Stakes</u></div>
    </div>
    <div class="lb" style="left:174.2px;top:38.9px">
      <div class="lbh">Count 2021</div>
      <div class="lbr alt first r2"><svg class="star"><use href="#gstar"/></svg><i>4th</i> <u class="h">Holdem 5 to 6</u><br><u class="b">Players Turbo $2.01-$5</u></div>
      <div class="lbr r2"><svg class="star"><use href="#sstar"/></svg><i>19th</i> <u class="h">Holdem 5 to 6</u><br><u class="c">Players Turbo Any Stakes</u></div>
    </div>
    <div class="lb" style="left:174.2px;top:137.4px">
      <div class="lbh">Best 500 Streak 2021</div>
      <div class="lbr alt first r3"><svg class="star"><use href="#sstar"/></svg><i>14th</i> <u class="h">Holdem 5 to 6</u><br><u class="a">Players Turbo $2 and</u><br><u class="a">under</u></div>
      <div class="lbr r2"><svg class="star"><use href="#sstar"/></svg><i>10th</i> <u class="h">Holdem 5 to 6</u><br><u class="b">Players Turbo $2.01-$5</u></div>
    </div>
  </div>
</div>

</body>
</html>
